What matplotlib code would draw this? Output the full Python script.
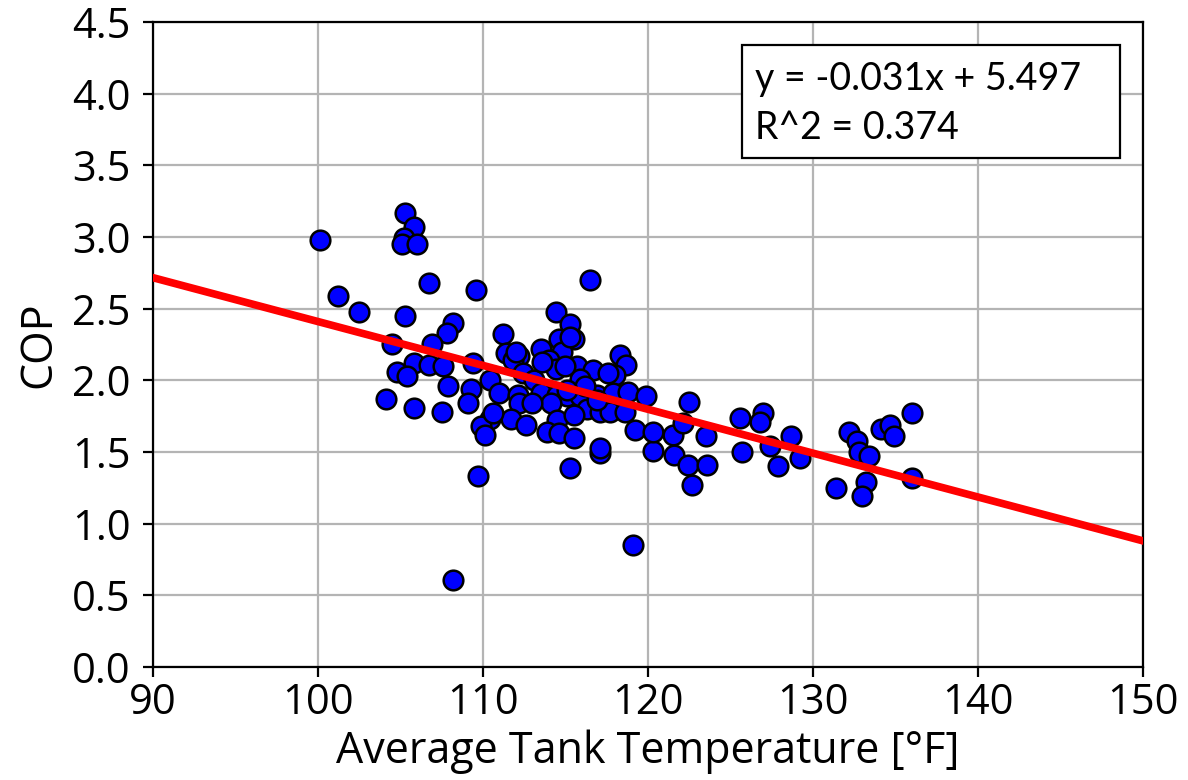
import matplotlib
matplotlib.use('Agg')
import matplotlib.pyplot as plt
from matplotlib.patches import Rectangle

# Average tank temperature [F] and COP
temps = [
    100.1, 105.3, 105.8, 105.2, 105.1, 106.0, 106.7, 109.6, 101.2, 102.5,
    105.3, 108.2, 107.8, 104.5, 106.9, 105.8, 106.7, 107.6, 109.4, 104.8,
    105.4, 111.2, 111.4, 110.4, 107.9, 109.3, 104.1, 105.8, 107.5, 109.1,
    110.4, 109.9, 110.1, 111.0, 108.2, 109.7, 119.1, 116.5,
    114.4, 115.3, 114.6, 115.5, 113.5, 114.8, 112.2, 111.8, 118.3, 118.7,
    114.0, 115.7, 116.7, 114.4, 112.4, 113.1, 115.9, 118.0, 113.5, 112.1,
    114.5, 115.1, 115.9, 116.9, 117.9, 118.8, 119.9, 112.2, 114.1, 116.3,
    117.1, 117.7, 118.6, 111.7, 114.5, 115.5, 112.6, 113.9, 114.6, 115.5,
    119.2, 120.3, 117.1, 115.3, 113.6, 112.0, 115.3, 115.0, 113.0, 110.6,
    116.2, 116.9, 117.6, 115.1, 117.1,
    122.5, 120.3, 121.5, 122.1, 123.5, 125.6, 127.0, 126.8, 128.7, 127.4,
    125.7, 121.6, 122.4, 123.6, 122.7, 127.9, 129.2, 132.2, 132.7, 132.8,
    133.4, 134.1, 134.7, 134.9, 136.0, 136.0, 131.4, 133.2, 133.0,
]
cop = [
    2.98, 3.17, 3.07, 2.99, 2.95, 2.95, 2.68, 2.63, 2.59, 2.48,
    2.45, 2.40, 2.33, 2.25, 2.25, 2.12, 2.11, 2.10, 2.12, 2.06,
    2.03, 2.32, 2.19, 2.00, 1.96, 1.94, 1.87, 1.81, 1.78, 1.84,
    1.73, 1.68, 1.62, 1.91, 0.61, 1.33, 0.85, 2.70,
    2.48, 2.39, 2.29, 2.29, 2.22, 2.20, 2.17, 2.14, 2.18, 2.11,
    2.14, 2.10, 2.07, 2.08, 2.05, 2.00, 2.01, 2.04, 1.91, 1.90,
    1.90, 1.89, 1.89, 1.90, 1.91, 1.92, 1.89, 1.84, 1.84, 1.80,
    1.78, 1.78, 1.78, 1.73, 1.72, 1.76, 1.69, 1.64, 1.63, 1.60,
    1.65, 1.51, 1.49, 1.39, 2.13, 2.20, 2.30, 2.10, 1.84, 1.77,
    1.96, 1.86, 2.05, 1.93, 1.53,
    1.85, 1.64, 1.62, 1.70, 1.61, 1.74, 1.77, 1.71, 1.61, 1.54,
    1.50, 1.48, 1.41, 1.41, 1.27, 1.40, 1.46, 1.64, 1.58, 1.50,
    1.47, 1.66, 1.69, 1.61, 1.77, 1.32, 1.25, 1.29, 1.19,
]

# Linear fit as drawn in the reference
fit_slope = -0.0306
fit_intercept = 5.47
fit_x = [90, 150]
fit_lines = ['y = -0.031x + 5.497', 'R^2 = 0.374']

x_ticks = [90, 100, 110, 120, 130, 140, 150]
y_ticks = [0.0, 0.5, 1.0, 1.5, 2.0, 2.5, 3.0, 3.5, 4.0, 4.5]


def main():
    plt.rcParams['font.family'] = ['Open Sans', 'DejaVu Sans']

    fig = plt.figure(figsize=(11.88, 7.8), dpi=100)
    ax = fig.add_axes([0.1288, 0.1449, 0.962 - 0.1288, 0.9718 - 0.1449])

    ax.grid(True, color='#b4b4b4', linewidth=1.6, zorder=0)
    ax.set_axisbelow(True)

    ax.scatter(temps, cop, s=200, c='blue', edgecolors='black',
               linewidths=1.8, zorder=3)

    fit_y = [fit_slope * v + fit_intercept for v in fit_x]
    ax.plot(fit_x, fit_y, color='red', linewidth=5.5, zorder=4)

    ax.set_xlim(90, 150)
    ax.set_ylim(0, 4.5)
    ax.set_xticks(x_ticks)
    ax.set_yticks(y_ticks)
    ax.set_yticklabels(['%.1f' % v for v in y_ticks])
    ax.tick_params(labelsize=30, width=1.6, length=7, pad=4)
    ax.tick_params(axis='y', pad=9)
    for sp in ax.spines.values():
        sp.set_linewidth(1.6)

    ax.set_xlabel('Average Tank Temperature [°F]', fontsize=31, labelpad=4)
    ax.set_ylabel('COP', fontsize=31, labelpad=8)

    # Equation box
    box = Rectangle((0.595, 0.789), 0.382, 0.175, transform=ax.transAxes,
                    facecolor='white', edgecolor='black', linewidth=1.6,
                    zorder=6)
    ax.add_patch(box)
    for txt, ypos in zip(fit_lines, [0.912, 0.835]):
        ax.text(0.608, ypos, txt, transform=ax.transAxes, fontsize=27,
                family=['Lato', 'DejaVu Sans'], va='center', ha='left',
                zorder=7)

    fig.savefig('out.png', dpi=100)


if __name__ == '__main__':
    main()
